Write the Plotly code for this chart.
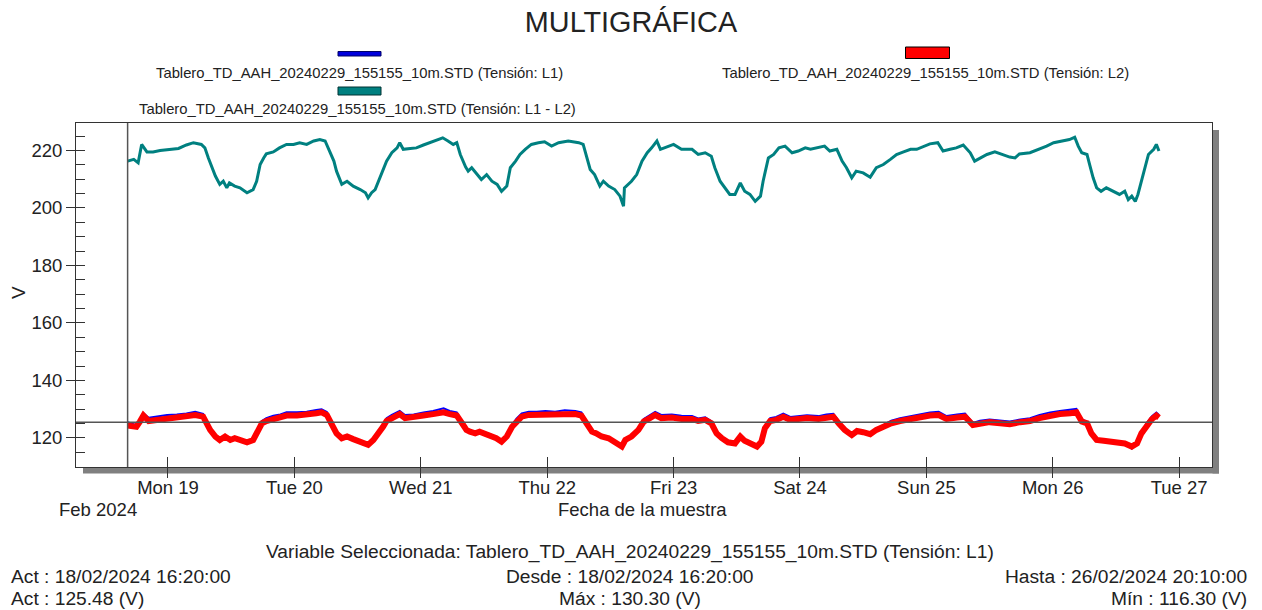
import plotly.graph_objects as go
import pandas as pd

# ---------------- data ----------------
START = "2024-02-18 16:20"

# hours since START for L1 / L2 samples
HOURS_L = [
    0.0, 1.72, 2.35, 2.99, 3.94, 5.52, 7.42, 9.32, 11.22, 12.80,
    14.38, 15.01, 15.65, 16.60, 17.54, 18.49, 19.44, 20.39, 21.34, 22.61,
    23.87, 24.82, 25.46, 26.40, 27.67, 28.94, 30.20, 32.10, 34.00, 35.90,
    36.85, 37.80, 38.75, 39.70, 40.65, 41.59, 42.86, 44.13, 45.71, 46.66,
    47.61, 48.56, 49.19, 50.14, 51.72, 52.67, 54.25, 56.15, 58.05, 59.95,
    61.21, 62.48, 63.43, 64.38, 65.01, 65.96, 66.91, 67.86, 68.81, 70.07,
    71.02, 71.97, 72.92, 73.87, 74.82, 76.09, 77.67, 79.25, 81.15, 83.05,
    84.95, 86.21, 87.16, 88.11, 89.06, 90.01, 91.27, 92.54, 93.81, 94.44,
    95.71, 96.97, 97.92, 99.19, 100.13, 101.40, 103.30, 105.20, 107.10, 108.36,
    109.63, 110.89, 111.84, 112.79, 114.06, 115.32, 116.27, 117.22, 118.49, 119.44,
    120.39, 121.02, 121.97, 123.24, 124.50, 125.77, 127.35, 128.93, 131.15, 132.73,
    134.00, 134.95, 136.22, 137.48, 138.43, 139.70, 140.96, 142.23, 143.49, 145.08,
    146.66, 148.56, 150.46, 152.35, 153.94, 155.52, 157.42, 159.00, 160.58, 161.85,
    163.75, 165.65, 167.54, 169.44, 171.34, 173.24, 175.14, 177.04, 178.94, 180.20,
    181.15, 182.10, 183.05, 184.00, 185.27, 186.53, 187.80, 189.38, 190.64, 191.59,
    192.54, 193.49, 194.44, 195.39, 195.83,
]

L1 = [
    125.48, 124.4, 126.5, 128.6, 127.0, 127.4, 128.0, 128.2, 128.5, 129.1,
    128.4, 125.8, 123.2, 120.8, 119.6, 120.8, 119.6, 120.2, 119.6, 118.8,
    119.6, 123.3, 125.9, 126.9, 127.7, 128.2, 128.9, 128.9, 129.1, 129.7,
    130.0, 129.0, 125.8, 121.9, 120.2, 120.8, 119.9, 119.0, 117.9, 119.6,
    122.0, 124.6, 126.9, 128.0, 129.4, 128.0, 128.2, 128.9, 129.4, 130.3,
    129.4, 128.9, 125.8, 123.1, 122.5, 121.9, 122.5, 121.9, 121.3, 120.2,
    119.0, 120.8, 124.5, 126.7, 128.5, 129.1, 129.1, 129.4, 129.1, 129.6,
    129.4, 128.9, 125.8, 122.5, 121.9, 120.8, 120.2, 119.0, 117.3, 119.6,
    120.8, 123.3, 126.6, 128.0, 129.1, 128.0, 128.2, 127.7, 127.6, 126.8,
    127.2, 125.8, 121.9, 120.2, 118.8, 118.4, 120.8, 119.3, 118.4, 117.3,
    119.0, 124.0, 126.9, 127.3, 128.5, 127.3, 127.6, 127.9, 127.6, 128.2,
    128.4, 125.8, 123.2, 121.3, 122.7, 122.3, 121.6, 123.2, 124.6, 126.0,
    126.9, 127.6, 128.2, 128.9, 129.1, 127.6, 128.2, 128.5, 125.2, 126.0,
    126.4, 126.0, 125.7, 126.4, 126.9, 128.0, 128.9, 129.4, 129.7, 130.1,
    126.5, 125.6, 121.9, 119.6, 119.3, 119.0, 118.8, 118.4, 116.3, 118.4,
    122.0, 125.2, 127.6, 128.8, 128.0,
]

L2 = [
    124.3, 123.9, 125.7, 127.8, 125.9, 126.3, 126.9, 127.1, 127.4, 128.0,
    127.4, 125.1, 122.8, 120.5, 119.3, 120.5, 119.3, 119.9, 119.3, 118.5,
    119.3, 122.8, 125.1, 125.9, 126.6, 127.1, 127.8, 127.8, 128.0, 128.6,
    128.9, 128.0, 125.1, 121.6, 119.9, 120.5, 119.6, 118.7, 117.6, 119.3,
    121.6, 123.9, 125.9, 126.9, 128.3, 126.9, 127.1, 127.8, 128.3, 128.9,
    128.3, 127.8, 125.1, 122.8, 122.2, 121.6, 122.2, 121.6, 121.0, 119.9,
    118.7, 120.5, 123.9, 125.7, 127.4, 128.0, 128.0, 128.3, 128.0, 128.4,
    128.3, 127.8, 125.1, 122.2, 121.6, 120.5, 119.9, 118.7, 117.0, 119.3,
    120.5, 122.8, 125.7, 126.9, 128.0, 126.9, 127.1, 126.6, 126.6, 125.9,
    126.3, 125.1, 121.6, 119.9, 118.5, 118.1, 120.5, 119.0, 118.1, 117.0,
    118.7, 123.4, 125.9, 126.3, 127.4, 126.3, 126.6, 126.9, 126.6, 127.1,
    127.4, 125.1, 122.8, 121.0, 122.4, 122.0, 121.3, 122.8, 123.9, 125.1,
    125.9, 126.6, 127.1, 127.8, 128.0, 126.6, 127.1, 127.4, 124.5, 125.1,
    125.5, 125.1, 124.8, 125.5, 125.9, 126.9, 127.8, 128.3, 128.6, 128.9,
    125.7, 125.1, 121.6, 119.3, 119.0, 118.7, 118.5, 118.1, 117.0, 118.1,
    121.6, 124.5, 126.6, 127.8, 127.1,
]

# hours since START for the L1 - L2 samples
HOURS_T = [
    0.0, 1.09, 2.04, 2.67, 3.62, 4.9, 6.15, 8.05, 9.6, 11.2,
    12.5, 14.06, 14.7, 15.3, 15.96, 16.6, 17.5, 18.2, 18.8, 19.4,
    20.4, 21.3, 22.6, 23.9, 24.5, 25.1, 25.8, 26.4, 27.7, 28.9,
    30.2, 31.5, 32.7, 34.0, 35.3, 36.5, 37.5, 38.4, 39.1, 39.7,
    40.6, 41.6, 42.2, 42.9, 44.1, 45.1, 45.7, 46.3, 47.0, 47.6,
    48.6, 49.2, 50.1, 51.1, 51.7, 52.4, 53.6, 54.9, 56.2, 57.4,
    58.7, 59.9, 60.9, 61.8, 62.5, 63.1, 64.1, 64.7, 65.3, 66.3,
    67.2, 68.2, 69.1, 70.1, 71.0, 72.0, 72.6, 73.6, 74.5, 75.5,
    76.7, 78.0, 79.2, 80.5, 81.8, 83.7, 85.6, 86.5, 87.2, 87.8,
    88.7, 89.7, 90.3, 91.3, 92.5, 93.5, 94.1, 94.4, 95.7, 96.7,
    97.6, 98.6, 99.5, 100.5, 101.1, 102.0, 103.6, 105.2, 107.1, 108.4,
    109.6, 110.9, 111.5, 112.5, 113.4, 114.4, 115.3, 116.3, 117.2, 118.2,
    119.1, 120.1, 120.7, 121.7, 122.6, 123.6, 124.8, 126.1, 127.3, 128.6,
    129.6, 130.8, 132.4, 133.4, 134.6, 135.6, 136.5, 137.5, 138.4, 139.7,
    141.0, 142.2, 143.5, 144.8, 146.0, 147.3, 148.6, 149.8, 151.1, 152.4,
    153.9, 154.9, 156.2, 157.4, 158.7, 160.0, 160.9, 161.9, 163.1, 164.7,
    166.0, 167.5, 168.5, 169.4, 171.3, 173.2, 174.5, 175.8, 177.7, 178.9,
    179.9, 180.5, 181.2, 182.1, 182.7, 183.4, 184.0, 184.9, 185.9, 187.2,
    188.4, 189.4, 190.0, 190.6, 191.3, 191.9, 192.5, 193.2, 193.8, 194.8,
    195.4, 195.83,
]

L1_L2 = [
    216.3, 216.9, 215.7, 222.1, 219.5, 219.5, 220.0, 220.4, 220.7, 221.9,
    222.7, 222.1, 220.9, 217.4, 214.0, 211.1, 208.2, 209.3, 207.0, 208.7,
    207.6, 207.0, 205.3, 206.4, 209.3, 215.1, 217.4, 218.8, 219.5, 220.9,
    222.1, 222.1, 222.7, 222.1, 223.3, 223.8, 223.3, 219.8, 216.3, 212.8,
    208.2, 209.3, 208.7, 207.6, 206.4, 205.3, 203.5, 205.3, 206.4, 209.3,
    214.0, 216.3, 219.2, 220.9, 222.7, 220.4, 220.7, 220.9, 221.9, 222.7,
    223.5, 224.4, 223.3, 222.1, 222.7, 218.6, 214.3, 212.8, 214.0, 211.6,
    209.9, 211.6, 209.3, 208.2, 205.8, 207.6, 214.0, 216.3, 218.6, 220.4,
    222.1, 222.7, 223.0, 221.5, 222.7, 223.3, 222.7, 222.1, 217.4, 213.4,
    211.6, 207.6, 209.3, 207.6, 206.4, 204.1, 200.6, 207.0, 209.3, 211.6,
    216.3, 219.2, 220.9, 223.3, 220.4, 220.9, 222.1, 220.4, 220.4, 218.6,
    219.2, 218.0, 214.0, 209.3, 207.0, 204.7, 204.7, 208.7, 205.8, 204.7,
    202.3, 204.1, 209.3, 217.4, 218.6, 220.9, 221.5, 219.2, 219.8, 220.9,
    220.4, 220.9, 221.5, 219.8, 220.4, 216.3, 214.0, 210.5, 212.8, 212.2,
    210.7, 214.0, 215.1, 216.9, 218.6, 219.5, 220.4, 220.4, 221.5, 222.3,
    222.7, 219.8, 220.4, 220.9, 221.9, 219.2, 216.3, 217.4, 218.6, 219.5,
    218.6, 217.7, 217.4, 218.8, 219.2, 220.4, 221.5, 222.7, 223.3, 223.8,
    224.6, 221.5, 219.2, 218.6, 215.1, 210.5, 207.0, 205.8, 207.0, 205.8,
    204.7, 205.8, 202.9, 204.1, 202.3, 204.7, 209.3, 214.0, 218.6, 220.4,
    222.1, 219.8,
]

SERIES_NAMES = [
    "Tablero_TD_AAH_20240229_155155_10m.STD (Tensión: L1)",
    "Tablero_TD_AAH_20240229_155155_10m.STD (Tensión: L2)",
    "Tablero_TD_AAH_20240229_155155_10m.STD (Tensión: L1 - L2)",
]

CURSOR_TIME = "2024-02-18 16:20"
CURSOR_VALUE = 125.48
X_RANGE = ["2024-02-18 06:32", "2024-02-27 06:14"]
Y_RANGE = [109.9, 229.55]

FOOTER_TOP = "Variable Seleccionada: Tablero_TD_AAH_20240229_155155_10m.STD (Tensión: L1)"
FOOTER_LEFT = ["Act : 18/02/2024 16:20:00", "Act : 125.48 (V)"]
FOOTER_MID = ["Desde : 18/02/2024 16:20:00", "Máx : 130.30 (V)"]
FOOTER_RIGHT = ["Hasta : 26/02/2024 20:10:00", "Mín : 116.30 (V)"]

# ---------------- geometry helpers ----------------
W, H = 1262, 610
ML, MR, MT, MB = 76, 50, 123, 143
PW = W - ML - MR
PH = H - MT - MB


def px(x):
    return (x - ML) / PW


def py(y):
    return (H - MB - y) / PH


FONT = "Liberation Sans, Arial, sans-serif"
TXT = "#222222"
FRAME = "#333333"

t0 = pd.Timestamp(START)
tL = (t0 + pd.to_timedelta(HOURS_L, unit="h")).round("10min")
tT = (t0 + pd.to_timedelta(HOURS_T, unit="h")).round("10min")

fig = go.Figure()
fig.add_trace(go.Scatter(x=tL, y=L1, mode="lines", name=SERIES_NAMES[0],
                         line=dict(color="#0000ff", width=2)))
fig.add_trace(go.Scatter(x=tL, y=L2, mode="lines", name=SERIES_NAMES[1],
                         line=dict(color="#ff0000", width=6)))
fig.add_trace(go.Scatter(x=tT, y=L1_L2, mode="lines", name=SERIES_NAMES[2],
                         line=dict(color="#008080", width=3),
                         xaxis="x2", yaxis="y2"))

common_x = dict(type="date", range=X_RANGE, dtick=86400000, tick0="2024-02-19",
                showgrid=False, zeroline=False, tickcolor=FRAME, tickwidth=1)
common_y = dict(range=Y_RANGE, showgrid=False, zeroline=False,
                tickcolor=FRAME, tickwidth=1)

fig.update_layout(
    width=W, height=H,
    margin=dict(l=ML, r=MR, t=MT, b=MB, pad=0),
    paper_bgcolor="white", plot_bgcolor="white",
    showlegend=False,
    font=dict(family=FONT, color=TXT),
    title=dict(text="MULTIGRÁFICA", x=0.5, xref="container", xanchor="center",
               y=1 - 22 / H, yref="container", yanchor="middle",
               font=dict(size=28.8, color=TXT, family=FONT)),
    xaxis=dict(**common_x, ticks="outside", ticklen=10, tickformat="%a %d",
               ticklabelstandoff=-6,
               tickfont=dict(size=18.5, color=TXT, family=FONT),
               showline=True, mirror=True, linecolor=FRAME, linewidth=1),
    xaxis2=dict(**common_x, overlaying="x", anchor="y", side="bottom",
                ticks="inside", ticklen=10, showticklabels=False, showline=False),
    yaxis=dict(**common_y, ticks="outside", ticklen=9, dtick=20, tick0=120,
               tickfont=dict(size=18.5, color=TXT, family=FONT),
               showline=True, mirror=True, linecolor=FRAME, linewidth=1),
    yaxis2=dict(**common_y, overlaying="y", anchor="x", side="left",
                ticks="inside", ticklen=9, dtick=5, tick0=110,
                showticklabels=False, showline=False),
)

shapes = []
# drop shadow of the plot frame
shapes.append(dict(type="rect", xref="paper", yref="paper",
                   x0=px(83), x1=px(1219), y0=py(473.5), y1=py(467.5),
                   fillcolor="#808080", line=dict(width=0), layer="below"))
shapes.append(dict(type="rect", xref="paper", yref="paper",
                   x0=px(1212.5), x1=px(1219), y0=py(473.5), y1=py(130),
                   fillcolor="#808080", line=dict(width=0), layer="below"))
# cursor lines
shapes.append(dict(type="line", xref="x", yref="paper", x0=CURSOR_TIME, x1=CURSOR_TIME,
                   y0=0, y1=1, line=dict(color="#555555", width=1.5)))
shapes.append(dict(type="line", xref="paper", yref="y", x0=0, x1=1,
                   y0=CURSOR_VALUE, y1=CURSOR_VALUE, line=dict(color="#555555", width=1.5)))
# legend swatches
shapes.append(dict(type="rect", xref="paper", yref="paper",
                   x0=px(338), x1=px(381), y0=py(56), y1=py(51.5),
                   fillcolor="#0000dd", line=dict(color="#000066", width=1)))
shapes.append(dict(type="rect", xref="paper", yref="paper",
                   x0=px(905.5), x1=px(949.5), y0=py(58.5), y1=py(47),
                   fillcolor="#ff0000", line=dict(color="#000000", width=1)))
shapes.append(dict(type="rect", xref="paper", yref="paper",
                   x0=px(338), x1=px(381), y0=py(95), y1=py(87),
                   fillcolor="#008080", line=dict(color="#003333", width=1)))
fig.update_layout(shapes=shapes)

ann = []


def text(t, x, y, size, anchor="center", angle=0):
    ann.append(dict(text=t, x=px(x), y=py(y), xref="paper", yref="paper",
                    xanchor=anchor, yanchor="middle", showarrow=False,
                    textangle=angle, font=dict(size=size, color=TXT, family=FONT)))


# legend labels
text(SERIES_NAMES[0], 359, 72.5, 14.8)
text(SERIES_NAMES[1], 926, 72.5, 14.8)
text(SERIES_NAMES[2], 357, 109, 14.8)
# axis titles
text("V", 18, 293, 19, angle=-90)
text("Fecha de la muestra", 642.5, 509.5, 18.5)
text("Feb 2024", 57, 509.5, 18.5, anchor="left")
# footer
text(FOOTER_TOP, 630, 552, 19.2)
text(FOOTER_LEFT[0], 9, 576, 19.2, anchor="left")
text(FOOTER_LEFT[1], 9, 598, 19.2, anchor="left")
text(FOOTER_MID[0], 629.5, 576, 19.2)
text(FOOTER_MID[1], 629.5, 598, 19.2)
text(FOOTER_RIGHT[0], 1249, 576, 19.2, anchor="right")
text(FOOTER_RIGHT[1], 1249, 598, 19.2, anchor="right")
fig.update_layout(annotations=ann)

fig.write_html("out.html", config={"displayModeBar": False})

# remove the browser's default page margin so the figure sits at (0, 0)
with open("out.html", "r", encoding="utf-8") as f:
    html = f.read()
html = html.replace("<body>", '<body style="margin:0;padding:0;overflow:hidden">', 1)
with open("out.html", "w", encoding="utf-8") as f:
    f.write(html)
